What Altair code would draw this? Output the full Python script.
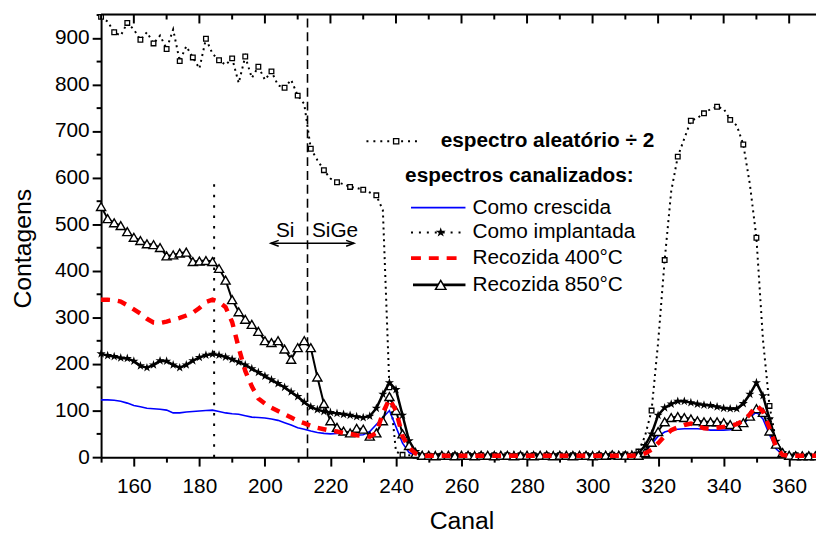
import altair as alt
import pandas as pd

FONT = "Liberation Sans"

# ---------------- data (channel step 2, 150..370) ----------------
channels = list(range(150, 371, 2))

aleatorio = [
    945, 935, 912, 905, 932, 918, 896, 912, 888, 905,
    876, 918, 850, 882, 858, 834, 898, 866, 852, 842,
    856, 803, 860, 814, 838, 810, 828, 798, 793, 810,
    776, 758, 662, 638, 616, 598, 590, 586, 580, 578,
    574, 568, 562, 530, 150, 12, 5, 4, 3, 4,
    3, 4, 3, 4, 4, 3, 4, 3, 4, 3,
    4, 3, 4, 3, 4, 3, 4, 3, 4, 3,
    4, 3, 4, 3, 4, 3, 4, 4, 5, 4,
    6, 8, 12, 45, 100, 246, 423, 571, 645, 684,
    722, 728, 738, 747, 752, 748, 724, 712, 671, 586,
    471, 252, 110, 34, 5, 3, 4, 3, 3, 4,
    3,
]

crescida = [
    123, 123, 122, 120, 116, 111, 108, 105, 104, 103,
    101, 95, 95, 97, 98, 99, 100, 101, 98, 95,
    93, 92, 89, 86, 85, 84, 82, 79, 74, 69,
    63, 60, 56, 53, 51, 50, 51, 52, 50, 47,
    48, 55, 70, 85, 100, 65, 30, 10, 4, 3,
    3, 3, 4, 3, 3, 4, 3, 3, 4, 3,
    3, 4, 3, 3, 4, 3, 3, 4, 3, 3,
    4, 3, 3, 4, 3, 3, 4, 3, 3, 4,
    3, 4, 4, 12, 28, 45, 54, 58, 60, 61,
    61, 61, 60, 58, 58, 58, 59, 64, 72, 85,
    97, 82, 48, 18, 5, 3, 3, 3, 3, 3,
    3,
]

implantada = [
    222, 218, 216, 213, 212, 206, 196, 192, 198, 207,
    206, 198, 192, 198, 207, 214, 219, 221, 219, 215,
    210, 204, 198, 190, 182, 174, 166, 158, 150, 140,
    130, 118, 108, 102, 98, 96, 94, 92, 90, 87,
    85, 88, 105, 135, 160, 145, 90, 35, 12, 5,
    4, 5, 4, 4, 5, 4, 4, 5, 4, 4,
    5, 4, 4, 5, 4, 4, 5, 4, 4, 5,
    4, 4, 5, 4, 4, 5, 4, 5, 5, 5,
    5, 6, 8, 25, 50, 90, 106, 114, 120, 120,
    117, 114, 112, 111, 108, 105, 104, 104, 115, 135,
    160, 132, 82, 34, 10, 4, 4, 3, 4, 3,
    3,
]

recozida400 = [
    338, 338, 337, 334, 326, 317, 308, 297, 289, 288,
    291, 295, 299, 304, 310, 320, 333, 338, 333, 322,
    290, 235, 185, 152, 126, 115, 106, 99, 92, 85,
    78, 73, 67, 63, 60, 57, 55, 52, 50, 47,
    46, 44, 52, 95, 125, 100, 45, 20, 8, 3,
    3, 3, 3, 3, 3, 3, 3, 3, 3, 3,
    3, 3, 3, 3, 3, 3, 3, 3, 3, 3,
    3, 3, 3, 3, 3, 3, 3, 3, 3, 3,
    3, 3, 4, 8, 16, 30, 45, 58, 64, 69,
    72, 67, 62, 61, 63, 65, 67, 71, 78, 92,
    111, 98, 62, 22, 5, 3, 3, 3, 3, 3,
    3,
]

recozida850 = [
    538, 512, 503, 497, 484, 472, 465, 458, 456, 450,
    432, 434, 438, 440, 420, 421, 422, 420, 405, 380,
    338, 312, 296, 285, 270, 250, 246, 250, 232, 210,
    235, 250, 235, 172, 115, 78, 64, 56, 52, 62,
    60, 45, 52, 78, 130, 100, 50, 25, 8, 4,
    4, 3, 4, 4, 3, 4, 4, 3, 4, 4,
    3, 4, 4, 3, 4, 4, 3, 4, 4, 3,
    4, 4, 3, 4, 4, 3, 4, 4, 5, 4,
    4, 4, 4, 10, 32, 55, 76, 85, 87, 85,
    82, 78, 76, 76, 76, 74, 70, 66, 74, 88,
    104, 96, 56, 28, 10, 4, 3, 3, 3, 3,
    3,
]

# annotations
vline_ch = [184.5, 213]
vline_top = [590, 950]
vline_kind = ["dot", "dash"]
arrow_ch = [201.8, 227.2]
arrow_y = [459]
region_labels = ["Si", "SiGe"]
region_ch = [206.2, 221.4]
region_y = [486, 486]

xticks = list(range(150, 371, 10))
yticks = list(range(0, 951, 50))
x_major = list(range(160, 361, 20))
x_minor = list(range(150, 371, 20))

legend_labels = [
    "espectro aleatório ÷ 2",
    "espectros canalizados:",
    "Como crescida",
    "Como implantada",
    "Recozida 400°C",
    "Recozida 850°C",
]

STAR = ("M0,-1L0.2245,-0.309L0.951,-0.309L0.363,0.118L0.588,0.809L0,0.382"
        "L-0.588,0.809L-0.363,0.118L-0.951,-0.309L-0.2245,-0.309Z")
HEAD_L = "M1,-0.75L-1,0L1,0.75"
HEAD_R = "M-1,-0.75L1,0L-1,0.75"

# ---------------- scales & axes ----------------
xscale = alt.Scale(domain=[150, 370], range=[0, 728], nice=False, zero=False)
yscale = alt.Scale(domain=[0, 950], nice=False, zero=False)

common_axis = dict(
    grid=False, domainColor="black", domainWidth=2, tickColor="black", tickWidth=2,
    labelFont=FONT, labelFontSize=21, labelColor="black",
    titleFont=FONT, titleFontSize=25, titleFontWeight="normal", titleColor="black",
    labelOverlap=False, labelFlush=False,
)

xaxis = alt.Axis(
    values=xticks, format="d",
    labelExpr="datum.value % 20 === 0 ? datum.label : ''",
    tickSize={"condition": {"test": "datum.value % 20 === 0", "value": 9}, "value": 5},
    labelPadding=10, title="Canal", titleY=72, titleBaseline="alphabetic",
    **common_axis,
)
yaxis = alt.Axis(
    values=yticks, format="d",
    labelExpr="datum.value % 100 === 0 ? datum.label : ''",
    tickSize={"condition": {"test": "datum.value % 100 === 0", "value": 9}, "value": 5},
    labelPadding=3, title="Contagens", titleX=-71, titleY=236, titleAngle=270,
    titleBaseline="alphabetic", titleAlign="center",
    **common_axis,
)

X = alt.X("ch:Q", scale=xscale, axis=xaxis)
Y = alt.Y("v:Q", scale=yscale, axis=yaxis)


def series(vals):
    return pd.DataFrame({"ch": channels, "v": vals})


df_ale = series(aleatorio)
df_ale["mk"] = [i % 2 == 0 for i in range(len(channels))]
df_cre = series(crescida)
df_imp = series(implantada)
df_400 = series(recozida400)
df_850 = series(recozida850)

layers = []

# vertical reference lines
df_v = pd.DataFrame({"ch": vline_ch, "v": [0, 0], "v2": vline_top, "kind": vline_kind})
layers.append(alt.Chart(df_v[df_v.kind == "dot"]).mark_rule(
    color="black", strokeWidth=2, strokeDash=[2.5, 8]).encode(x=X, y=Y, y2=alt.Y2("v2")))
layers.append(alt.Chart(df_v[df_v.kind == "dash"]).mark_rule(
    color="black", strokeWidth=1.6, strokeDash=[9, 5]).encode(x=X, y=Y, y2=alt.Y2("v2")))

# double arrow
df_arrow = pd.DataFrame({"ch": [arrow_ch[0]], "ch2": [arrow_ch[1]], "v": arrow_y})
layers.append(alt.Chart(df_arrow).mark_rule(color="black", strokeWidth=1.5).encode(
    x=X, x2=alt.X2("ch2"), y=Y))
df_hl = pd.DataFrame({"ch": [arrow_ch[0] + 1.2], "v": arrow_y})
df_hr = pd.DataFrame({"ch": [arrow_ch[1] - 1.2], "v": arrow_y})
layers.append(alt.Chart(df_hl).mark_point(shape=HEAD_L, filled=False, stroke="black",
                                          strokeWidth=1.5, size=64, opacity=1).encode(x=X, y=Y))
layers.append(alt.Chart(df_hr).mark_point(shape=HEAD_R, filled=False, stroke="black",
                                          strokeWidth=1.5, size=64, opacity=1).encode(x=X, y=Y))
df_reg = pd.DataFrame({"ch": region_ch, "v": region_y, "t": region_labels})
layers.append(alt.Chart(df_reg).mark_text(font=FONT, fontSize=21, color="black",
                                          align="center", baseline="middle").encode(
    x=X, y=Y, text="t:N"))

# random spectrum
layers.append(alt.Chart(df_ale).mark_line(color="black", strokeWidth=2, strokeDash=[2, 4]).encode(x=X, y=Y))
layers.append(alt.Chart(df_ale[df_ale.mk]).mark_point(
    shape="square", filled=True, fill="white", stroke="black", strokeWidth=1.3,
    size=22, opacity=1).encode(x=X, y=Y))

# como crescida
layers.append(alt.Chart(df_cre).mark_line(color="#0000ff", strokeWidth=1.6).encode(x=X, y=Y))

# como implantada
layers.append(alt.Chart(df_imp).mark_line(color="black", strokeWidth=2.5).encode(x=X, y=Y))
layers.append(alt.Chart(df_imp).mark_point(shape=STAR, filled=True, color="black",
                                           size=95, opacity=1).encode(x=X, y=Y))

# recozida 850
layers.append(alt.Chart(df_850).mark_line(color="black", strokeWidth=2).encode(x=X, y=Y))
layers.append(alt.Chart(df_850).mark_point(shape="triangle-up", filled=True, fill="white",
                                           stroke="black", strokeWidth=1.4, size=85,
                                           opacity=1).encode(x=X, y=Y))

# recozida 400
layers.append(alt.Chart(df_400).mark_line(color="#ff0000", strokeWidth=4.5,
                                          strokeDash=[9, 8]).encode(x=X, y=Y))

# top frame and top ticks
one = pd.DataFrame({"k": [0]})
layers.append(alt.Chart(one).mark_rule(color="black", strokeWidth=2).encode(
    x=alt.value(0), x2=alt.value(730), y=alt.value(0)))
df_tmaj = pd.DataFrame({"ch": x_major})
df_tmin = pd.DataFrame({"ch": x_minor})
layers.append(alt.Chart(df_tmaj).mark_rule(color="black", strokeWidth=2).encode(
    x=X, y=alt.value(0), y2=alt.value(9)))
layers.append(alt.Chart(df_tmin).mark_rule(color="black", strokeWidth=2).encode(
    x=X, y=alt.value(0), y2=alt.value(5)))

# ---------------- legend (manual) ----------------
LX0, LX1, LM, LT = 313, 368, 343, 375
ly = [128, 163, 195, 220, 246, 273]

# random sample
layers.append(alt.Chart(one).mark_rule(color="black", strokeWidth=2, strokeDash=[2, 5]).encode(
    x=alt.value(268), x2=alt.value(323), y=alt.value(ly[0])))
layers.append(alt.Chart(one).mark_point(shape="square", filled=True, fill="white", stroke="black",
                                        strokeWidth=1.3, size=28, opacity=1).encode(
    x=alt.value(298), y=alt.value(ly[0])))
# crescida
layers.append(alt.Chart(one).mark_rule(color="#0000ff", strokeWidth=1.6).encode(
    x=alt.value(LX0), x2=alt.value(LX1), y=alt.value(ly[2])))
# implantada
layers.append(alt.Chart(one).mark_rule(color="black", strokeWidth=2, strokeDash=[2, 6]).encode(
    x=alt.value(LX0), x2=alt.value(LX1), y=alt.value(ly[3])))
layers.append(alt.Chart(one).mark_point(shape=STAR, filled=True, color="black", size=110,
                                        opacity=1).encode(x=alt.value(LM), y=alt.value(ly[3])))
# 400
layers.append(alt.Chart(one).mark_rule(color="#ff0000", strokeWidth=4, strokeDash=[10, 8]).encode(
    x=alt.value(LX0), x2=alt.value(LX1 - 4), y=alt.value(ly[4])))
# 850
layers.append(alt.Chart(one).mark_rule(color="black", strokeWidth=3).encode(
    x=alt.value(LX0 + 2), x2=alt.value(LX1), y=alt.value(ly[5])))
layers.append(alt.Chart(one).mark_point(shape="triangle-up", filled=True, fill="white",
                                        stroke="black", strokeWidth=1.5, size=110,
                                        opacity=1).encode(x=alt.value(LM), y=alt.value(ly[5])))

text_x = [343, 307, LT, LT, LT, LT]
for i, lab in enumerate(legend_labels):
    layers.append(alt.Chart(one).mark_text(
        text=lab, font=FONT, fontSize=21, color="black", align="left", baseline="middle",
        fontWeight="bold" if i < 2 else "normal").encode(
        x=alt.value(text_x[i]), y=alt.value(ly[i])))

chart = alt.layer(*layers).properties(
    width=722, height=447,
    autosize=alt.AutoSizeParams(type="none"),
    padding={"left": 94, "top": 4, "right": 0, "bottom": 77},
).configure_view(stroke=None).configure(background="white")

chart.save("out.html", embed_options={"renderer": "svg", "actions": False})
